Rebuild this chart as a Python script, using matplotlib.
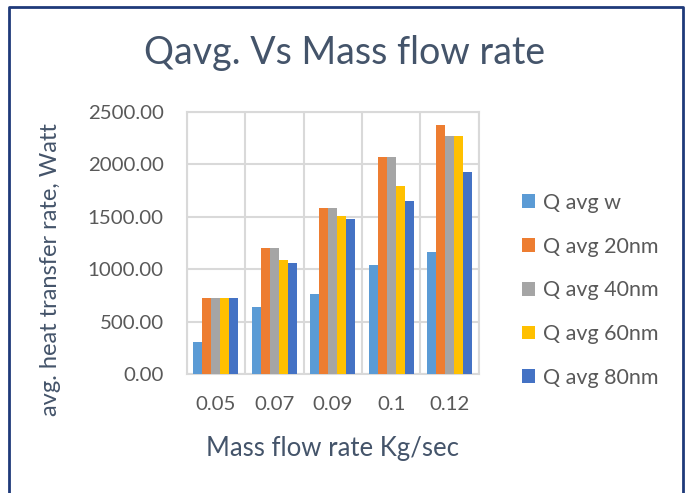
import matplotlib
matplotlib.use('agg')
import matplotlib.pyplot as plt
import numpy as np

flow_rates = ['0.05', '0.07', '0.09', '0.1', '0.12']
series_names = ['Q avg w', 'Q avg 20nm', 'Q avg 40nm', 'Q avg 60nm', 'Q avg 80nm']
q_w    = [305, 642, 766, 1042, 1166]
q_20nm = [724, 1201, 1585, 2068, 2379]
q_40nm = [724, 1201, 1585, 2068, 2271]
q_60nm = [724, 1086, 1509, 1795, 2271]
q_80nm = [724, 1064, 1480, 1652, 1928]
y_ticks = [0, 500, 1000, 1500, 2000, 2500]

colors = ['#5B9BD5', '#ED7D31', '#A5A5A5', '#FFC000', '#4472C4']
plt.rcParams['font.family'] = ['Lato', 'DejaVu Sans']

fig = plt.figure(figsize=(6.89, 4.93), dpi=100)
ax = fig.add_axes([0.271, 0.241, 0.424, 0.532])

x = np.arange(len(flow_rates))
w = 0.154
all_series = [q_w, q_20nm, q_40nm, q_60nm, q_80nm]
for i, (vals, name) in enumerate(zip(all_series, series_names)):
    ax.bar(x + (i - 2) * w, vals, w, color=colors[i], label=name, zorder=3)

ax.set_xlim(-0.5, 4.5)
ax.set_ylim(0, 2500)
ax.set_yticks(y_ticks)
ax.set_yticklabels(['%.2f' % v for v in y_ticks])
ax.set_xticks(x)
ax.set_xticklabels(flow_rates)
ax.set_xticks(np.arange(-0.5, 5, 1), minor=True)
ax.grid(axis='y', color='#D9D9D9', linewidth=1.5, zorder=0)
ax.grid(axis='x', which='minor', color='#D9D9D9', linewidth=1.5, zorder=0)
ax.tick_params(length=0, which='both', labelsize=14.7, labelcolor='#595959')
ax.tick_params(axis='y', pad=16.5)
ax.tick_params(axis='x', pad=16)
for s in ax.spines.values():
    s.set_color('#D9D9D9')
    s.set_linewidth(1.5)

ax.set_xlabel('Mass flow rate Kg/sec', fontsize=18.5, color='#44546A', labelpad=16)
ax.set_ylabel('avg. heat transfer rate, Watt', fontsize=17, color='#44546A')
ax.yaxis.set_label_coords(-0.432, 0.40)
fig.text(0.5, 0.893, 'Qavg. Vs Mass flow rate', ha='center', va='center',
         fontsize=27, color='#44546A')

ax.legend(loc='center left', bbox_to_anchor=(1.08, 0.32), frameon=False,
          fontsize=15.5, labelcolor='#595959', handlelength=0.6, handleheight=0.6,
          handletextpad=0.4, labelspacing=1.1)

# outer chart border
fig.add_artist(plt.Line2D([0.013, 0.013, 0.992, 0.992], [0.0, 0.986, 0.986, 0.0],
                          color='#1F3A7A', linewidth=2))

fig.savefig('out.png')
